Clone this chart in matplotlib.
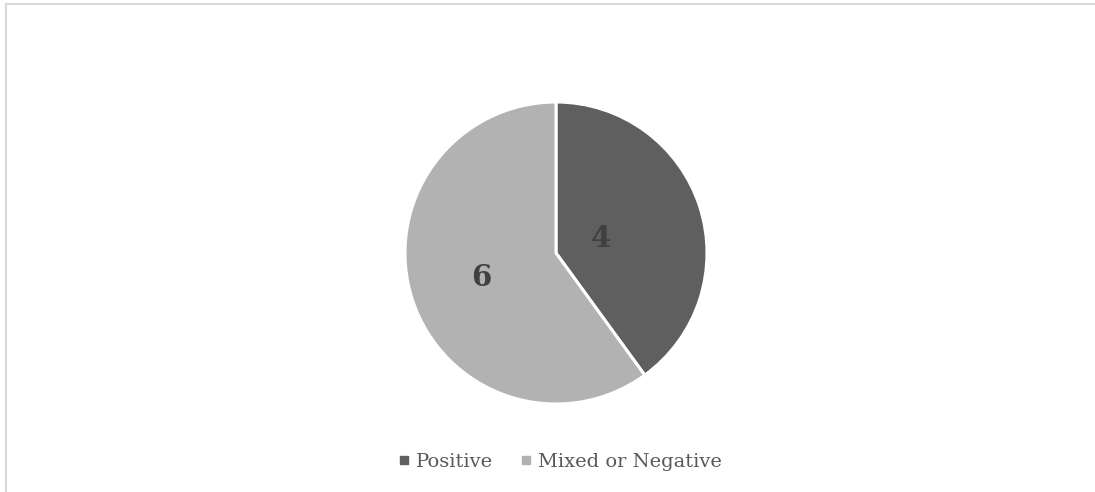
import numpy as np
import matplotlib
matplotlib.use("Agg")
from matplotlib import pyplot as plt
from matplotlib.lines import Line2D

categories = ["Positive", "Mixed or Negative"]
counts = [4, 6]
colors = ["#5f5f5f", "#b2b2b2"]
label_dist = [0.31, 0.52]

plt.rcParams['font.family'] = ['DejaVu Serif']

W, H = 1095, 492
fig = plt.figure(figsize=(W / 100, H / 100), dpi=100)

# pie box in pixels: center (556, 253), radius 151
cx, cy, r = 556, 253, 151
ax = fig.add_axes([(cx - r) / W, 1 - (cy + r) / H, 2 * r / W, 2 * r / H])
wedges, _ = ax.pie(counts, colors=colors, startangle=90, counterclock=False,
                   radius=1, wedgeprops=dict(edgecolor="white", linewidth=2.2))
ax.set_xlim(-1, 1)
ax.set_ylim(-1, 1)
ax.set_aspect("equal")

for w, v, d in zip(wedges, counts, label_dist):
    ang = np.deg2rad((w.theta1 + w.theta2) / 2)
    ax.text(d * np.cos(ang), d * np.sin(ang), str(v), ha="center", va="center",
            fontsize=21, fontweight="bold", color="#404040")

handles = [Line2D([], [], marker="s", linestyle="none", markersize=6,
                  markerfacecolor=c, markeredgecolor=c) for c in colors]
fig.legend(handles, categories, loc="center", bbox_to_anchor=(560 / W, 1 - 462 / H),
           ncol=2, frameon=False, fontsize=14, handlelength=0.6, handletextpad=0.3,
           columnspacing=1.4, labelcolor="#595959")

# chart border (top and left edges visible)
fig.add_artist(Line2D([6 / W, 6 / W], [0, 1 - 4 / H], color="#d9d9d9", linewidth=1.5,
                      transform=fig.transFigure))
fig.add_artist(Line2D([6 / W, 1], [1 - 4 / H, 1 - 4 / H], color="#d9d9d9", linewidth=1.5,
                      transform=fig.transFigure))

fig.savefig("out.png", dpi=100, facecolor="white")
